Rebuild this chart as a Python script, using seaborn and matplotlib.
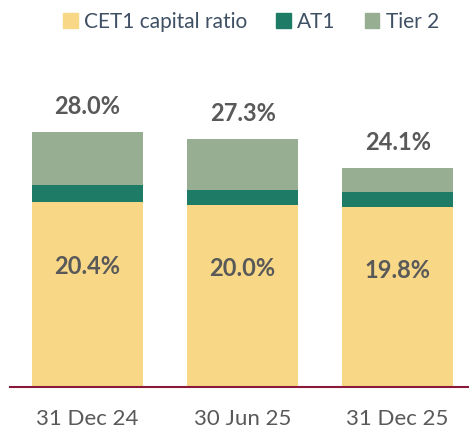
import matplotlib
matplotlib.use("Agg")
import matplotlib.pyplot as plt
import seaborn as sns
import pandas as pd
from matplotlib.patches import Patch

periods = ["31 Dec 24", "30 Jun 25", "31 Dec 25"]
cet1 = [20.4, 20.0, 19.8]
at1 = [1.8, 1.7, 1.7]
tier2 = [5.8, 5.6, 2.6]
totals = [28.0, 27.3, 24.1]

COL_CET1 = "#F8D887"
COL_AT1 = "#1E7B65"
COL_T2 = "#97AE92"
TXT = "#595959"

sns.set_theme(style="white")
plt.rcParams["font.family"] = ["Lato", "DejaVu Sans"]

df = pd.DataFrame({"period": periods, "cet1": cet1, "at1": at1, "tier2": tier2})
df["cet1_at1"] = df["cet1"] + df["at1"]
df["all"] = df["cet1_at1"] + df["tier2"]

fig = plt.figure(figsize=(4.69, 4.33), dpi=100)
ax = fig.add_axes([10 / 469, 46 / 433, 1 - 10 / 469, 300 / 433])

# stacked bars: draw cumulative totals back to front
w = 0.716
for col, c in [("all", COL_T2), ("cet1_at1", COL_AT1), ("cet1", COL_CET1)]:
    sns.barplot(data=df, x="period", y=col, color=c, width=w, saturation=1,
                linewidth=0, ax=ax)

for i, (c, t) in enumerate(zip(cet1, totals)):
    ax.text(i, c * 0.65, f"{c:.1f}%", ha="center", va="center",
            fontsize=17, fontweight="bold", color=TXT)
    ax.text(i, t + 2.8, f"{t:.1f}%", ha="center", va="center",
            fontsize=17, fontweight="bold", color=TXT)

ax.set_xlim(-0.5, 2.46)
ax.set_ylim(0, 33)
ax.set_xlabel("")
ax.set_ylabel("")
ax.set_yticks([])
for s in ["top", "right", "left"]:
    ax.spines[s].set_visible(False)
ax.spines["bottom"].set_color("#8B1A3A")
ax.spines["bottom"].set_linewidth(1.5)
ax.tick_params(axis="x", length=0, pad=16, labelsize=16, labelcolor=TXT)

handles = [Patch(color=COL_CET1, label="CET1 capital ratio"),
           Patch(color=COL_AT1, label="AT1"),
           Patch(color=COL_T2, label="Tier 2")]
leg = fig.legend(handles=handles, loc="center", bbox_to_anchor=(0.535, 1 - 22 / 433),
                 ncol=3, frameon=False, fontsize=15, handlelength=0.7, handleheight=0.7,
                 handletextpad=0.3, columnspacing=1.4)
for t in leg.get_texts():
    t.set_color("#3F5064")

fig.savefig("out.png", dpi=100)
